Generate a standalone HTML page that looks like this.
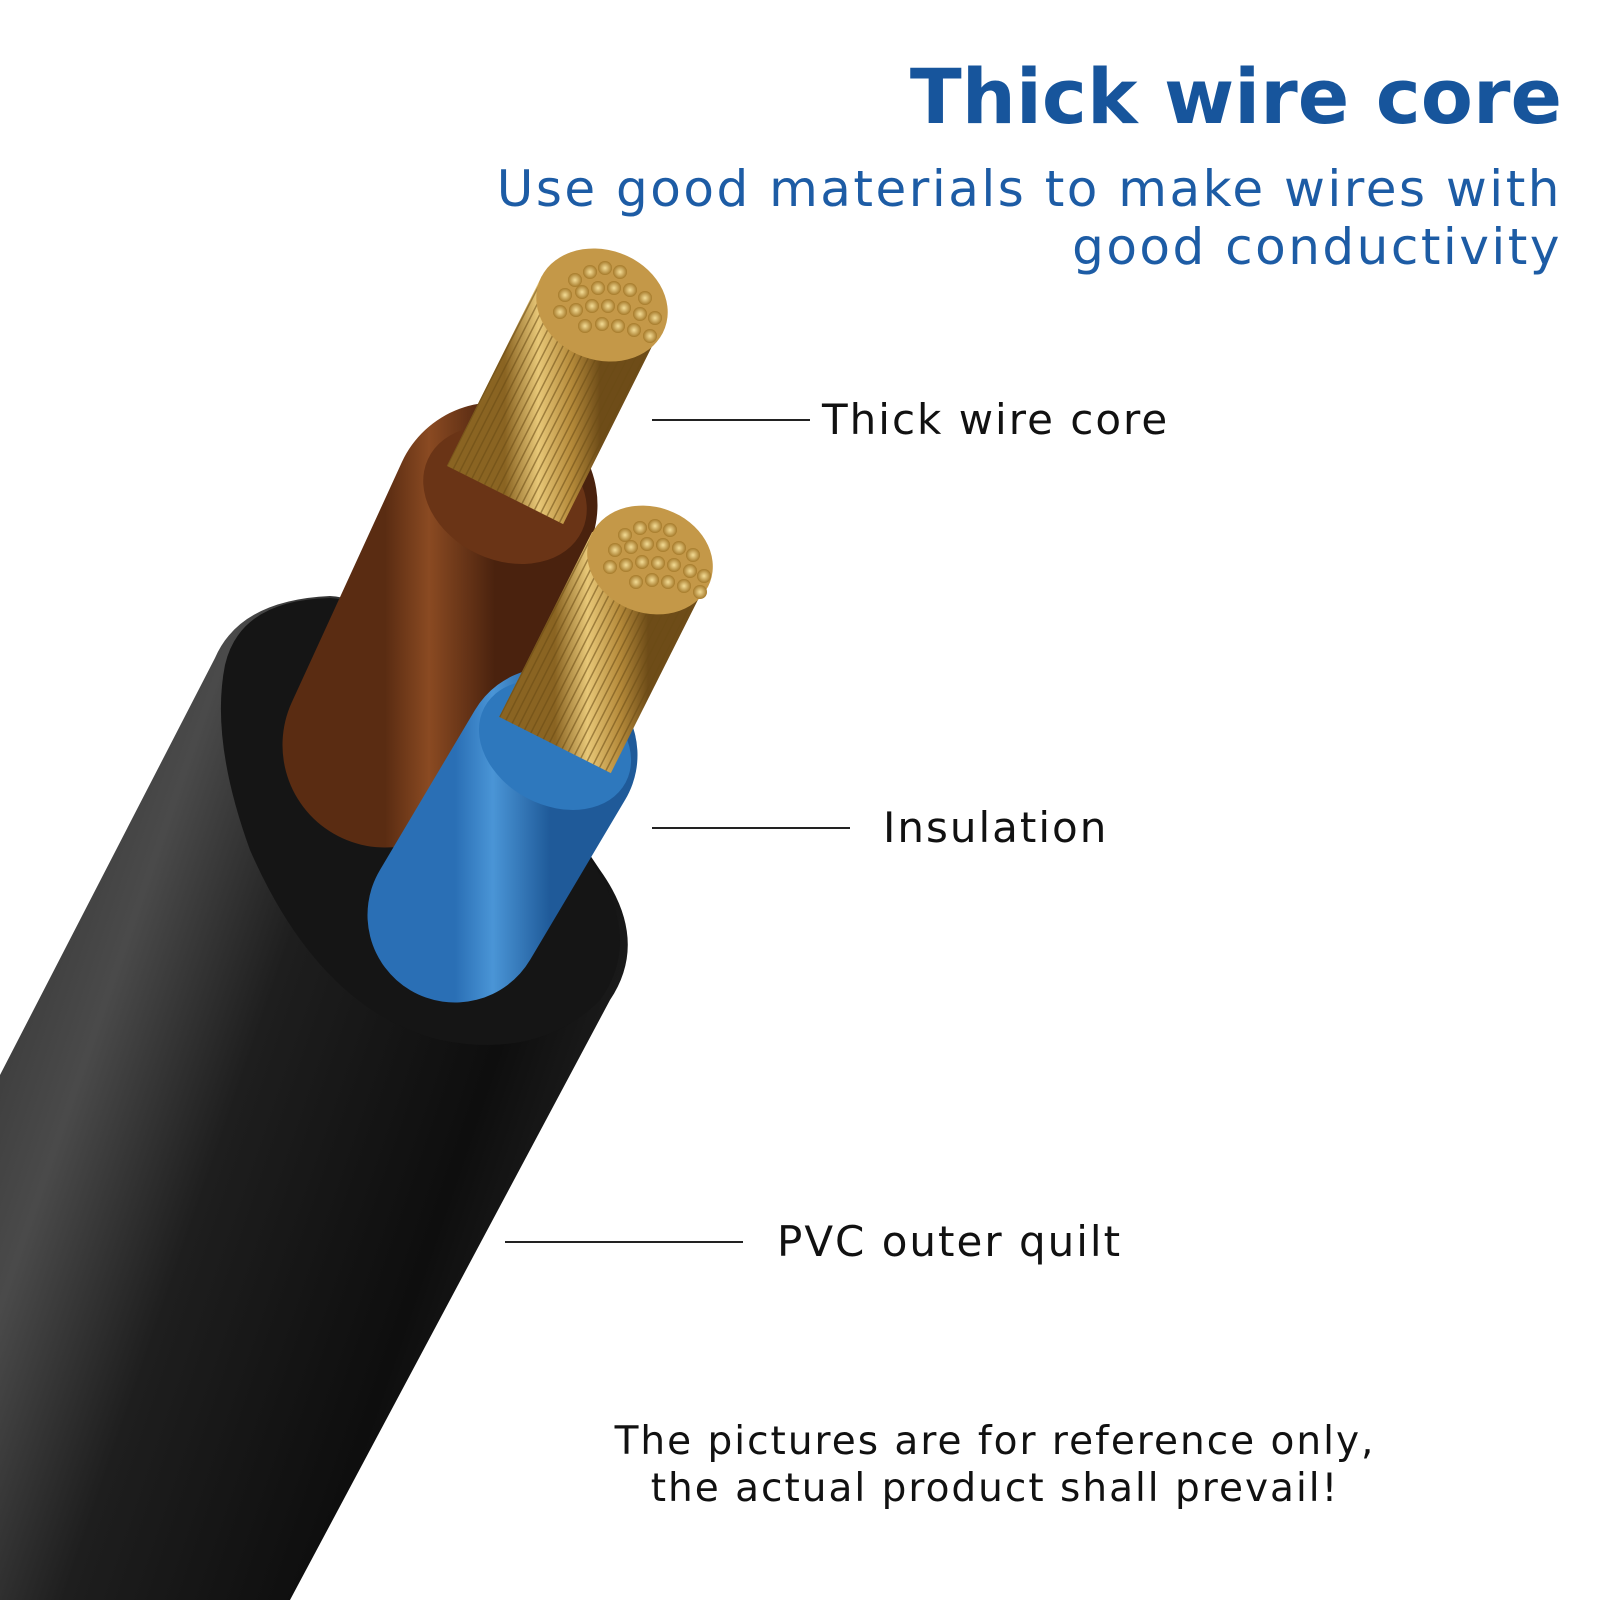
<!DOCTYPE html>
<html><head><meta charset="utf-8"><style>
html,body{margin:0;padding:0;background:#fff;}
#c{position:relative;width:1600px;height:1600px;overflow:hidden;background:#fff;font-family:"DejaVu Sans","Liberation Sans",sans-serif;}
.t{position:absolute;white-space:nowrap;}
</style></head><body><div id="c">
<svg width="1600" height="1600" style="position:absolute;left:0;top:0">
<defs>
<linearGradient id="jk" x1="0" y1="0" x2="1" y2="0.55">
<stop offset="0" stop-color="#2a2a2a"/><stop offset="0.3" stop-color="#4a4a4a"/><stop offset="0.5" stop-color="#1e1e1e"/><stop offset="0.8" stop-color="#0e0e0e"/><stop offset="1" stop-color="#222"/></linearGradient>
<linearGradient id="br" x1="0" y1="0" x2="1" y2="0"><stop offset="0" stop-color="#5a2c12"/><stop offset="0.4" stop-color="#8a4a22"/><stop offset="1" stop-color="#4a220e"/></linearGradient>
<linearGradient id="bl" x1="0" y1="0" x2="1" y2="0"><stop offset="0" stop-color="#2a6fb5"/><stop offset="0.4" stop-color="#4a95d6"/><stop offset="1" stop-color="#1f5a99"/></linearGradient>
<linearGradient id="cu" x1="0" y1="0" x2="1" y2="0"><stop offset="0" stop-color="#8a6422"/><stop offset="0.35" stop-color="#e8c878"/><stop offset="0.7" stop-color="#b58a3a"/><stop offset="1" stop-color="#6e4c18"/></linearGradient>
<pattern id="st" width="7" height="7" patternUnits="userSpaceOnUse" patternTransform="rotate(27)"><rect width="7" height="7" fill="none"/><rect width="1.5" height="7" fill="#6a4a14" opacity="0.55"/></pattern>
<radialGradient id="dot"><stop offset="0" stop-color="#f3dc96"/><stop offset="1" stop-color="#a67a2a"/></radialGradient>
</defs>
<path d="M0,1075 L215,658 Q240,600 330,596 Q420,600 600,870 Q650,940 610,1000 L290,1600 L0,1600 Z" fill="url(#jk)"/>
<path d="M225,665 Q240,600 330,598 Q430,605 600,875 Q640,945 600,1000 Q540,1060 440,1040 Q320,1010 250,850 Q210,740 225,665 Z" fill="#151515"/>
<line x1="385" y1="745" x2="495" y2="505" stroke="url(#br)" stroke-width="205" stroke-linecap="round"/>
<ellipse cx="505" cy="495" rx="85" ry="65" transform="rotate(25 505 495)" fill="#6a3416"/>
<line x1="505" y1="495" x2="600" y2="305" stroke="url(#cu)" stroke-width="130"/>
<line x1="505" y1="495" x2="600" y2="305" stroke="url(#st)" stroke-width="130"/>
<ellipse cx="602" cy="305" rx="67" ry="55" transform="rotate(20 602 305)" fill="#c49848"/>
<line x1="455" y1="915" x2="550" y2="755" stroke="url(#bl)" stroke-width="175" stroke-linecap="round"/>
<ellipse cx="555" cy="745" rx="80" ry="60" transform="rotate(28 555 745)" fill="#2e78bd"/>
<line x1="555" y1="745" x2="648" y2="560" stroke="url(#cu)" stroke-width="125"/>
<line x1="555" y1="745" x2="648" y2="560" stroke="url(#st)" stroke-width="125"/>
<ellipse cx="650" cy="560" rx="64" ry="53" transform="rotate(20 650 560)" fill="#c49848"/>
<g fill="url(#dot)">
<circle cx="575" cy="280" r="7"/><circle cx="590" cy="272" r="7"/><circle cx="605" cy="268" r="7"/><circle cx="620" cy="272" r="7"/><circle cx="565" cy="295" r="7"/><circle cx="582" cy="292" r="7"/><circle cx="598" cy="288" r="7"/><circle cx="614" cy="288" r="7"/><circle cx="630" cy="290" r="7"/><circle cx="645" cy="298" r="7"/><circle cx="560" cy="312" r="7"/><circle cx="576" cy="310" r="7"/><circle cx="592" cy="306" r="7"/><circle cx="608" cy="306" r="7"/><circle cx="624" cy="308" r="7"/><circle cx="640" cy="314" r="7"/><circle cx="655" cy="318" r="7"/><circle cx="585" cy="326" r="7"/><circle cx="602" cy="324" r="7"/><circle cx="618" cy="326" r="7"/><circle cx="634" cy="330" r="7"/><circle cx="650" cy="336" r="7"/>
<circle cx="625" cy="535" r="7"/><circle cx="640" cy="528" r="7"/><circle cx="655" cy="526" r="7"/><circle cx="670" cy="530" r="7"/><circle cx="615" cy="550" r="7"/><circle cx="631" cy="547" r="7"/><circle cx="647" cy="544" r="7"/><circle cx="663" cy="545" r="7"/><circle cx="679" cy="548" r="7"/><circle cx="693" cy="555" r="7"/><circle cx="610" cy="567" r="7"/><circle cx="626" cy="565" r="7"/><circle cx="642" cy="562" r="7"/><circle cx="658" cy="563" r="7"/><circle cx="674" cy="565" r="7"/><circle cx="690" cy="571" r="7"/><circle cx="704" cy="576" r="7"/><circle cx="636" cy="582" r="7"/><circle cx="652" cy="580" r="7"/><circle cx="668" cy="582" r="7"/><circle cx="684" cy="586" r="7"/><circle cx="700" cy="592" r="7"/>
</g>
<g stroke="#222" stroke-width="2">
<line x1="652" y1="420" x2="810" y2="420"/>
<line x1="652" y1="828" x2="850" y2="828"/>
<line x1="505" y1="1242" x2="743" y2="1242"/>
</g>
</svg>
<div class="t" style="right:38px;top:52px;font-size:76px;font-weight:bold;color:#17559c;letter-spacing:0px;">Thick wire core</div>
<div class="t" style="right:38px;top:160px;font-size:50px;color:#1d5ca5;letter-spacing:2.5px;text-align:right;line-height:58px;">Use good materials to make wires with<br>good conductivity</div>
<div class="t" style="left:822px;top:395px;font-size:42px;color:#111;letter-spacing:2px;">Thick wire core</div>
<div class="t" style="left:883px;top:803px;font-size:42px;color:#111;letter-spacing:2px;">Insulation</div>
<div class="t" style="left:777px;top:1217px;font-size:42px;color:#111;letter-spacing:2px;">PVC outer quilt</div>
<div class="t" style="left:995px;transform:translateX(-50%);top:1418px;font-size:39px;color:#111;letter-spacing:2px;text-align:center;line-height:47px;">The pictures are for reference only,<br>the actual product shall prevail!</div>
</div></body></html>
